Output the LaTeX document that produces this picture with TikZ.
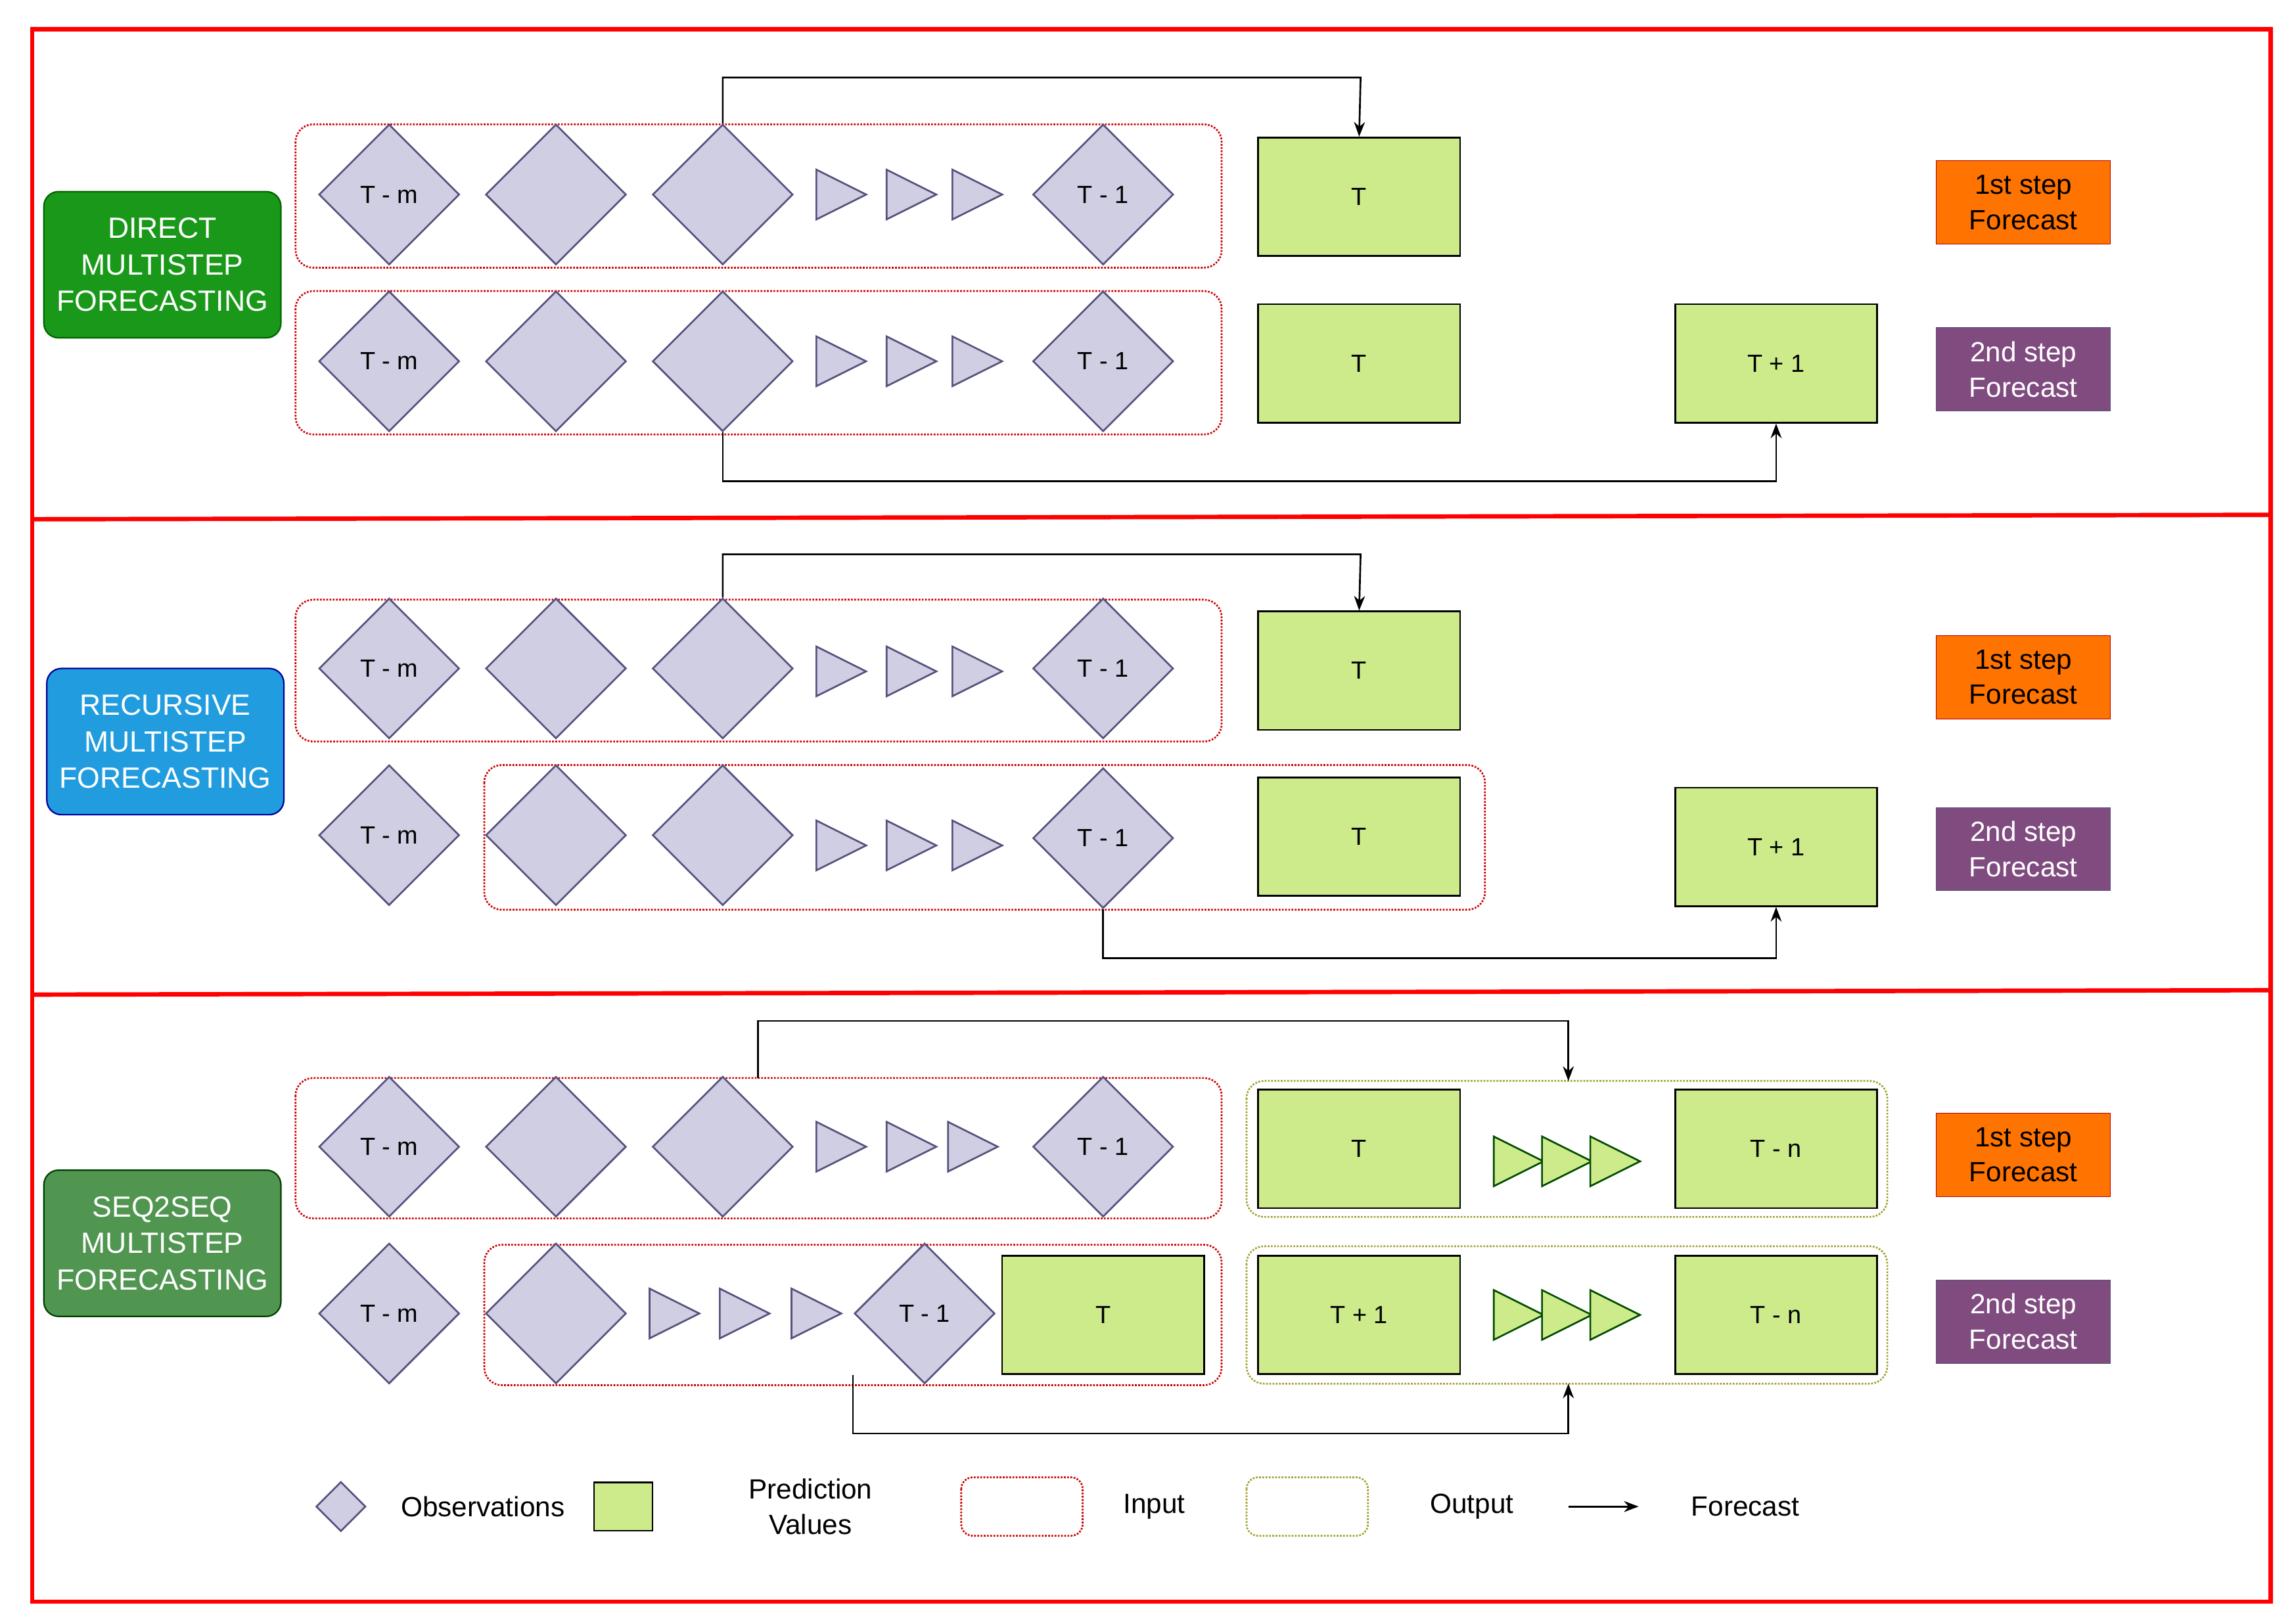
\documentclass[tikz,border=0pt]{standalone}
\usepackage{fontspec}
\setmainfont{Liberation Sans}
\usetikzlibrary{shapes.geometric,arrows.meta}
\definecolor{dfill}{HTML}{D0CEE2}\definecolor{dline}{HTML}{56517E}
\definecolor{gfill}{HTML}{CDEB8B}\definecolor{olive}{HTML}{A0A030}
\definecolor{redf}{HTML}{FF0000}
\tikzset{
 dia/.style={diamond,aspect=1,minimum width=96pt,minimum height=96pt,inner sep=0,fill=dfill,draw=dline,line width=1.2pt,font=\fontsize{17}{20}\selectfont},
 pred/.style={rectangle,minimum width=138pt,minimum height=81pt,fill=gfill,draw=black,line width=1.2pt,font=\fontsize{17}{20}\selectfont},
 inbox/.style={draw=red!80!black,densely dotted,line width=1.2pt,rounded corners=12pt},
 outbox/.style={draw=olive,densely dotted,line width=1.2pt,rounded corners=12pt},
 lab/.style={rectangle,rounded corners=10pt,minimum width=162pt,minimum height=100pt,text=white,align=center,font=\fontsize{20}{25}\selectfont,line width=1pt},
 step1/.style={rectangle,minimum width=119pt,minimum height=57pt,fill=orange!90!red,draw=red!70!black,align=center,font=\fontsize{19}{24}\selectfont},
 step2/.style={rectangle,minimum width=119pt,minimum height=57pt,fill=violet!40!gray,draw=dline,text=white,align=center,font=\fontsize{19}{24}\selectfont},
 fc/.style={-{Stealth[length=10pt]},line width=1.2pt},
 txt/.style={font=\fontsize{19}{24}\selectfont,align=center}
}
\newcommand{\tri}[3]{\draw[fill=#3,draw=dline,line width=1.2pt] (#1-17,#2-17) -- (#1+17,#2) -- (#1-17,#2+17) -- cycle;}
\newcommand{\gtri}[2]{\draw[fill=gfill,draw=black!70!green,line width=1.2pt] (#1-17,#2-17) -- (#1+17,#2) -- (#1-17,#2+17) -- cycle;}
\begin{document}
\begin{tikzpicture}[x=1pt,y=-1pt]
\useasboundingbox (0,0) rectangle (1568,1110);
\draw[red,line width=3pt] (22,20) rectangle (1552,1095);
\draw[red,line width=3pt] (22,355) -- (1552,352);
\draw[red,line width=3pt] (22,680) -- (1552,677);
% ---------- Section 1
\node[lab,fill=green!55!black!90,draw=green!40!black] (l1) at (111,181) {DIRECT\\MULTISTEP\\FORECASTING};
\draw[inbox] (202,85) rectangle (835,183);
\draw[inbox] (202,199) rectangle (835,297);
\node[dia] (a1) at (266,133) {T - m};
\node[dia] (a2) at (380,133) {};
\node[dia] (a3) at (494,133) {};
\tri{575}{133}{dfill}\tri{623}{133}{dfill}\tri{668}{133}{dfill}
\node[dia] (a4) at (754,133) {T - 1};
\node[pred] (aT) at (929,134.5) {T};
\node[dia] (b1) at (266,247) {T - m};
\node[dia] (b2) at (380,247) {};
\node[dia] (b3) at (494,247) {};
\tri{575}{247}{dfill}\tri{623}{247}{dfill}\tri{668}{247}{dfill}
\node[dia] (b4) at (754,247) {T - 1};
\node[pred] (bT) at (929,248.5) {T};
\node[pred] (bT1) at (1214,248.5) {T + 1};
\node[step1] (s11) at (1383,138.5) {1st step\\Forecast};
\node[step2] (s12) at (1383,252.5) {2nd step\\Forecast};
\draw[fc] (a3.north) |- (930,53) -- (aT.north);
\draw[fc] (b3.south) |- (1214,329) -- (bT1.south);
% ---------- Section 2
\node[lab,fill=cyan!80!blue!90,draw=blue!60!black] (l2) at (113,507) {RECURSIVE\\MULTISTEP\\FORECASTING};
\draw[inbox] (202,410) rectangle (835,507);
\draw[inbox] (331,523) rectangle (1015,622);
\node[dia] (c1) at (266,457) {T - m};
\node[dia] (c2) at (380,457) {};
\node[dia] (c3) at (494,457) {};
\tri{575}{459}{dfill}\tri{623}{459}{dfill}\tri{668}{459}{dfill}
\node[dia] (c4) at (754,457) {T - 1};
\node[pred] (cT) at (929,458.5) {T};
\node[dia] (d1) at (266,571) {T - m};
\node[dia] (d2) at (380,571) {};
\node[dia] (d3) at (494,571) {};
\tri{575}{578}{dfill}\tri{623}{578}{dfill}\tri{668}{578}{dfill}
\node[dia] (d4) at (754,573) {T - 1};
\node[pred] (dT) at (929,572) {T};
\node[pred] (dT1) at (1214,579) {T + 1};
\node[step1] (s21) at (1383,463) {1st step\\Forecast};
\node[step2] (s22) at (1383,580.5) {2nd step\\Forecast};
\draw[fc] (c3.north) |- (930,379) -- (cT.north);
\draw[fc] (d4.south) |- (1214,655) -- (dT1.south);
% ---------- Section 3
\node[lab,fill=green!30!gray!90!black,draw=green!25!black] (l3) at (111,850) {SEQ2SEQ\\MULTISTEP\\FORECASTING};
\draw[inbox] (202,737) rectangle (835,833);
\draw[outbox] (852,739) rectangle (1290,832);
\node[dia] (e1) at (266,784) {T - m};
\node[dia] (e2) at (380,784) {};
\node[dia] (e3) at (494,784) {};
\tri{575}{784}{dfill}\tri{623}{784}{dfill}\tri{665}{784}{dfill}
\node[dia] (e4) at (754,784) {T - 1};
\node[pred] (eT) at (929,785.5) {T};
\gtri{1038}{794}\gtri{1071}{794}\gtri{1104}{794}
\node[pred] (eTn) at (1214,785.5) {T - n};
\coordinate (o1) at (1072,739);
\coordinate (e0) at (518,737);
\draw[fc] (e0) |- (1072,698) -- (o1);
\draw[inbox] (331,851) rectangle (835,947);
\draw[outbox] (852,852) rectangle (1290,946);
\node[dia] (f1) at (266,898) {T - m};
\node[dia] (f2) at (380,898) {};
\tri{461}{898}{dfill}\tri{509}{898}{dfill}\tri{558}{898}{dfill}
\node[dia] (f4) at (632,898) {T - 1};
\node[pred] (fT) at (754,899) {T};
\node[pred] (fT1) at (929,899) {T + 1};
\gtri{1038}{899}\gtri{1071}{899}\gtri{1104}{899}
\node[pred] (fTn) at (1214,899) {T - n};
\coordinate (o2) at (1072,946);
\draw[fc] (583,940) |- (1072,980) -- (o2);
\node[step1] (s31) at (1383,789.5) {1st step\\Forecast};
\node[step2] (s32) at (1383,903.5) {2nd step\\Forecast};
% ---------- Legend
\node[dia,minimum width=34pt,minimum height=34pt] (lg1) at (233,1030) {};
\node[txt] (lt1) at (330,1030) {Observations};
\node[pred,minimum width=40pt,minimum height=33pt] (lg2) at (426,1030) {};
\node[txt] (lt2) at (554,1030) {Prediction\\Values};
\draw[inbox,rounded corners=8pt] (657,1010) rectangle (740,1050);
\node[txt] (lt3) at (789,1030) {Input};
\draw[outbox,rounded corners=8pt] (852,1010) rectangle (935,1050);
\node[txt] (lt4) at (1006,1030) {Output};
\coordinate (la) at (1072,1030);\coordinate (lb) at (1120,1030);
\draw[fc] (la) -- (lb);
\node[txt] (lt5) at (1193,1030) {Forecast};
\end{tikzpicture}
\end{document}
